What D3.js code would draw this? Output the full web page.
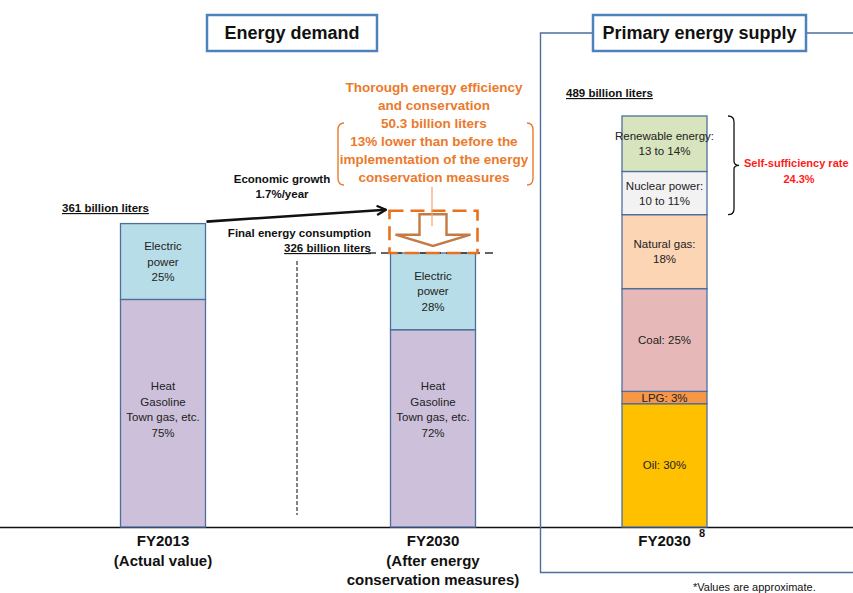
<!DOCTYPE html>
<html>
<head>
<meta charset="utf-8">
<script src="https://cdn.jsdelivr.net/npm/d3@7"></script>
<style>
  html, body { margin: 0; padding: 0; background: #fff; }
  svg { display: block; }
  text { font-family: "Liberation Sans Narrow", "Arial Narrow", "Liberation Sans", Arial, sans-serif; }
</style>
</head>
<body>
<svg id="chart" width="853" height="593"></svg>
<script>
// ---- data (billion liters, crude-oil equivalent) ----
const demandYears = ["FY2013", "FY2030"];
const demandTotals = [361, 326];
const electricShares = [25, 28];
const heatShares = [75, 72];
const savings = 50.3;

const supplyTotal = 489;
const supplySources = ["Oil", "LPG", "Coal", "Natural gas", "Nuclear power", "Renewable energy"];
const supplyShares = [30, 3, 25, 18, 10.5, 13.5];
const supplyLabels = [["Oil: 30%"], ["LPG: 3%"], ["Coal: 25%"], ["Natural gas:", "18%"], ["Nuclear power:", "10 to 11%"], ["Renewable energy:", "13 to 14%"]];
const selfSufficiency = 24.3;

const columnKeys = ["demand2013", "demand2030", "supply2030"];
const columnLabels = [["FY2013", "(Actual value)"], ["FY2030", "(After energy", "conservation measures)"], ["FY2030"]];

// ---- styles ----
const colors = {
  electric: "#B7DDE8", heat: "#CCC0DA",
  Oil: "#FFC000", LPG: "#F79646", Coal: "#E6B9B8", "Natural gas": "#FCD5B5",
  "Nuclear power": "#F2F2F2", "Renewable energy": "#D7E4BD"
};
const barStroke = "#4F6E9E";
const orange = "#EB7A2C";
const svg = d3.select("#chart");

const baseY = 527;
const y = d3.scaleLinear().domain([0, supplyTotal]).range([baseY, 116]);
const x = d3.scaleOrdinal().domain(columnKeys).range([163, 433, 664.5]);
const barW = 85;

// ---- baseline ----
svg.append("line").attr("x1", 0).attr("x2", 853).attr("y1", baseY + 0.5).attr("y2", baseY + 0.5)
  .attr("stroke", "#111").attr("stroke-width", 1.6);

// ---- primary supply frame ----
svg.append("path")
  .attr("d", "M593,33 H540.5 V572.5 H853 M806,33 H853")
  .attr("fill", "none").attr("stroke", "#4F6E9E").attr("stroke-width", 1.4);

// ---- section title boxes ----
function titleBox(x0, x1, label) {
  svg.append("rect").attr("x", x0).attr("y", 15).attr("width", x1 - x0).attr("height", 36)
    .attr("fill", "#fff").attr("stroke", "#4F81BD").attr("stroke-width", 2.5);
  svg.append("text").attr("x", (x0 + x1) / 2).attr("y", 39).attr("text-anchor", "middle")
    .attr("font-size", 18).attr("font-weight", "bold").attr("fill", "#111").text(label);
}
titleBox(207, 377, "Energy demand");
titleBox(593, 806, "Primary energy supply");

// ---- demand bars ----
function multiLine(sel, lines, cx, cy, lh) {
  const n = lines.length;
  lines.forEach((l, i) => {
    sel.append("text").attr("x", cx).attr("y", cy + (i - (n - 1) / 2) * lh + 4)
      .attr("text-anchor", "middle").text(l);
  });
}

demandYears.forEach((yr, i) => {
  const key = columnKeys[i];
  const cx = x(key);
  const total = demandTotals[i];
  const elec = total * electricShares[i] / 100;
  const heat = total * heatShares[i] / 100;
  const g = svg.append("g").attr("font-size", 11.5).attr("fill", "#222");
  // heat / fuels (bottom)
  g.append("rect").attr("x", cx - barW / 2).attr("y", y(heat)).attr("width", barW)
    .attr("height", y(0) - y(heat)).attr("fill", colors.heat).attr("stroke", barStroke).attr("stroke-width", 1.3);
  // electric power (top)
  g.append("rect").attr("x", cx - barW / 2).attr("y", y(heat + elec)).attr("width", barW)
    .attr("height", y(heat) - y(heat + elec)).attr("fill", colors.electric).attr("stroke", barStroke).attr("stroke-width", 1.3);
  multiLine(g, ["Electric", "power", electricShares[i] + "%"], cx, (y(heat) + y(heat + elec)) / 2, 15.5);
  multiLine(g, ["Heat", "Gasoline", "Town gas, etc.", heatShares[i] + "%"], cx, y(140), 15.5);
});

// ---- supply bar ----
{
  const cx = x("supply2030");
  let cum = 0;
  const g = svg.append("g").attr("font-size", 11.5).attr("fill", "#222");
  supplySources.forEach((s, i) => {
    const v = supplyTotal * supplyShares[i] / 100;
    const y0 = y(cum), y1 = y(cum + v);
    g.append("rect").attr("x", cx - barW / 2).attr("y", y1).attr("width", barW).attr("height", y0 - y1)
      .attr("fill", colors[s]).attr("stroke", barStroke).attr("stroke-width", 1.3);
    multiLine(g, supplyLabels[i], cx, (y0 + y1) / 2, 15);
    cum += v;
  });
}

// ---- totals (underlined) ----
function underlined(xPos, yPos, str, anchor) {
  svg.append("text").attr("x", xPos).attr("y", yPos).attr("text-anchor", anchor)
    .attr("font-size", 11.5).attr("font-weight", "bold").attr("fill", "#111")
    .attr("text-decoration", "underline").text(str);
}
underlined(62, 212, demandTotals[0] + " billion liters", "start");
underlined(566, 97, supplyTotal + " billion liters", "start");

// ---- economic growth arrow ----
svg.append("defs").append("marker").attr("id", "chev").attr("viewBox", "0 0 10 10")
  .attr("refX", 9).attr("refY", 5).attr("markerWidth", 4.4).attr("markerHeight", 4.4)
  .attr("markerUnits", "strokeWidth").attr("orient", "auto")
  .append("path").attr("d", "M1,1 L9,5 L1,9").attr("fill", "none").attr("stroke", "#111").attr("stroke-width", 2);
svg.append("line").attr("x1", x("demand2013") + barW / 2 + 1).attr("y1", y(demandTotals[0]) - 2)
  .attr("x2", 386).attr("y2", y(demandTotals[1] + savings) - 1)
  .attr("stroke", "#111").attr("stroke-width", 2.6).attr("marker-end", "url(#chev)");
{
  const g = svg.append("g").attr("font-size", 11.5).attr("font-weight", "bold").attr("fill", "#111");
  multiLine(g, ["Economic growth", "1.7%/year"], 282, 186, 15);
}

// ---- final consumption label ----
svg.append("text").attr("x", 371).attr("y", 237).attr("text-anchor", "end")
  .attr("font-size", 11.5).attr("font-weight", "bold").attr("fill", "#111").text("Final energy consumption");
underlined(371, 252, demandTotals[1] + " billion liters", "end");

// ---- guide lines ----
svg.append("line").attr("x1", 297).attr("x2", 297).attr("y1", 261).attr("y2", 515)
  .attr("stroke", "#333").attr("stroke-width", 1.2).attr("stroke-dasharray", "4,2");
svg.append("line").attr("x1", 368).attr("x2", 498).attr("y1", y(demandTotals[1])).attr("y2", y(demandTotals[1]))
  .attr("stroke", "#333").attr("stroke-width", 1.5).attr("stroke-dasharray", "8,5");

// ---- conservation box and block arrow ----
{
  const cx = x("demand2030");
  const top = y(demandTotals[1] + savings), bot = y(demandTotals[1]);
  svg.append("rect").attr("x", cx - barW / 2 - 1).attr("y", top).attr("width", barW + 3).attr("height", bot - top)
    .attr("fill", "none").attr("stroke", "#E8711E").attr("stroke-width", 2.6).attr("stroke-dasharray", "14,7");
  const sw = 13.5, hw = 37.5, sTop = top + 3.5, sBot = top + 24, tip = bot - 7;
  svg.append("path")
    .attr("d", `M${cx - sw},${sTop} H${cx + sw} V${sBot} H${cx + hw} L${cx},${tip} L${cx - hw},${sBot} H${cx - sw} Z`)
    .attr("fill", "#fff").attr("stroke", "#C47A45").attr("stroke-width", 2.4);
  svg.append("line").attr("x1", cx - 1).attr("x2", cx - 1).attr("y1", 187).attr("y2", sTop + 12)
    .attr("stroke", "#F2A470").attr("stroke-width", 1.2);
}

// ---- conservation annotation ----
{
  const g = svg.append("g").attr("font-size", 13.5).attr("font-weight", "bold").attr("fill", orange);
  const lines = ["Thorough energy efficiency", "and conservation", savings + " billion liters",
    "13% lower than before the", "implementation of the energy", "conservation measures"];
  lines.forEach((l, i) => {
    g.append("text").attr("x", 434).attr("y", 92 + i * 18).attr("text-anchor", "middle").text(l);
  });
  svg.append("path").attr("d", "M344,123 Q338,123 338,130 V178 Q338,185 344,185 M527,123 Q533,123 533,130 V178 Q533,185 527,185")
    .attr("fill", "none").attr("stroke", orange).attr("stroke-width", 1.4);
}

// ---- self-sufficiency brace ----
{
  const yTop = y(supplyTotal), yBot = y(supplyTotal * (100 - supplyShares[4] - supplyShares[5]) / 100);
  const ym = (yTop + yBot) / 2;
  svg.append("path")
    .attr("d", `M728,${yTop} Q734,${yTop} 734,${yTop + 6} V${ym - 4} Q734,${ym} 739,${ym} Q734,${ym} 734,${ym + 4} V${yBot - 6} Q734,${yBot} 728,${yBot}`)
    .attr("fill", "none").attr("stroke", "#111").attr("stroke-width", 1.3);
  const g = svg.append("g").attr("font-size", 11).attr("font-weight", "bold").attr("fill", "#FF1A1A");
  g.append("text").attr("x", 744).attr("y", 167).text("Self-sufficiency rate");
  g.append("text").attr("x", 799).attr("y", 183).attr("text-anchor", "middle").text(selfSufficiency + "%");
}

// ---- column labels ----
columnKeys.forEach((k, i) => {
  const g = svg.append("g").attr("font-size", 15).attr("font-weight", "bold").attr("fill", "#111");
  columnLabels[i].forEach((l, j) => {
    g.append("text").attr("x", x(k)).attr("y", 546 + j * 19.5).attr("text-anchor", "middle").text(l);
  });
});
svg.append("text").attr("x", 699).attr("y", 537).attr("font-size", 11).attr("font-weight", "bold")
  .attr("fill", "#111").text("8");

svg.append("text").attr("x", 693).attr("y", 591).attr("font-size", 11).attr("fill", "#111")
  .text("*Values are approximate.");
</script>
</body>
</html>
